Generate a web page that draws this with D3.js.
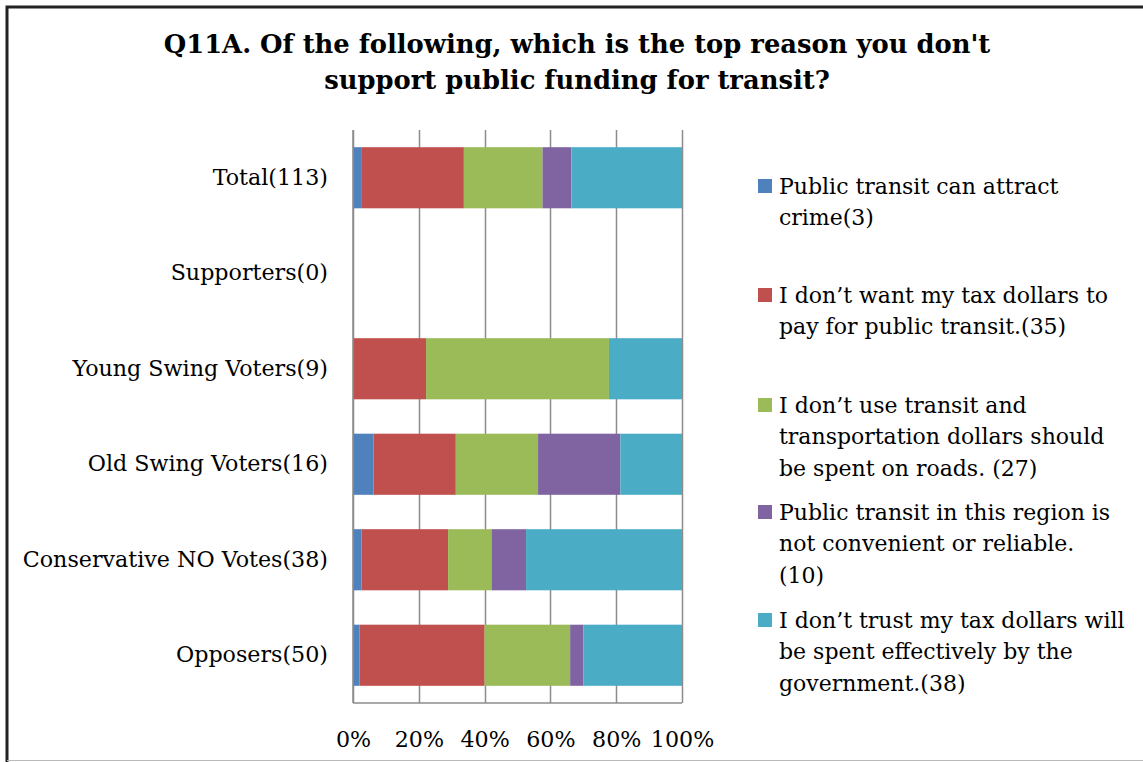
<!DOCTYPE html>
<html>
<head>
<meta charset="utf-8">
<script src="https://cdn.jsdelivr.net/npm/d3@7"></script>
<style>
  html, body { margin: 0; padding: 0; background: #fff; }
  svg { display: block; }
  text { font-family: "DejaVu Serif", serif; fill: #000; }
</style>
</head>
<body>
<svg id="chart" width="1143" height="762"></svg>
<script>
// Survey groups (top to bottom) and share of each group's top reason, in percent
const categories = [
  "Total(113)",
  "Supporters(0)",
  "Young Swing Voters(9)",
  "Old Swing Voters(16)",
  "Conservative NO Votes(38)",
  "Opposers(50)"
];
const attractCrime     = [2.7, 0, 0, 6.25, 2.6, 2.0];
const taxNotForTransit = [31.0, 0, 22.2, 25.0, 26.3, 38.0];
const spendOnRoads     = [23.9, 0, 55.6, 25.0, 13.2, 26.0];
const notConvenient    = [8.8, 0, 0, 25.0, 10.5, 4.0];
const distrustSpend    = [33.6, 0, 22.2, 18.75, 47.4, 30.0];

const seriesLabels = [
  ["Public transit can attract", "crime(3)"],
  ["I don\u2019t want my tax dollars to", "pay for public transit.(35)"],
  ["I don\u2019t use transit and", "transportation dollars should", "be spent on roads. (27)"],
  ["Public transit in this region is", "not convenient or reliable.", "(10)"],
  ["I don\u2019t trust my tax dollars will", "be spent effectively by the", "government.(38)"]
];
const seriesColors = ["#4F81BD", "#C0504D", "#9BBB59", "#8064A2", "#4BACC6"];
const tickValues = [0, 20, 40, 60, 80, 100];
const tickLabels = ["0%", "20%", "40%", "60%", "80%", "100%"];
const titleLines = [
  "Q11A. Of the following, which is the top reason you don't",
  "support public funding for transit?"
];

const seriesValues = [attractCrime, taxNotForTransit, spendOnRoads, notConvenient, distrustSpend];
const rows = categories.map((c, i) => {
  const r = { category: c };
  seriesValues.forEach((arr, k) => { r["s" + k] = arr[i]; });
  return r;
});
const keys = seriesValues.map((_, k) => "s" + k);
const stacked = d3.stack().keys(keys)(rows);

const svg = d3.select("#chart");
const FONT = 22.2;

// Outer frame
svg.append("path")
  .attr("d", "M7,762 V7 H1143")
  .attr("fill", "none").attr("stroke", "#222").attr("stroke-width", 3);
svg.append("line")
  .attr("x1", 7).attr("x2", 1143).attr("y1", 760.5).attr("y2", 760.5)
  .attr("stroke", "#bbb").attr("stroke-width", 1);

// Title
svg.append("text")
  .attr("x", 577).attr("y", 53)
  .attr("text-anchor", "middle")
  .style("font-size", "25.8px").style("font-weight", "bold")
  .selectAll("tspan").data(titleLines).join("tspan")
  .attr("x", 577).attr("dy", (d, i) => i === 0 ? 0 : 36)
  .text(d => d);

// Scales
const x = d3.scaleLinear().domain([0, 100]).range([353, 682]);
const y = d3.scaleBand().domain(categories).range([130, 703])
  .paddingInner(0.36).paddingOuter(0.18);

// Vertical gridlines
svg.append("g").selectAll("line").data(tickValues).join("line")
  .attr("x1", d => Math.round(x(d)) + 0.5).attr("x2", d => Math.round(x(d)) + 0.5)
  .attr("y1", 130).attr("y2", 703)
  .attr("stroke", "#8c8c8c").attr("stroke-width", 1.5);

// Stacked bars
svg.append("g").selectAll("g").data(stacked).join("g")
  .attr("fill", (d, i) => seriesColors[i])
  .selectAll("rect").data(d => d).join("rect")
  .attr("x", d => x(d[0]))
  .attr("width", d => Math.max(0, x(d[1]) - x(d[0])))
  .attr("y", d => y(d.data.category))
  .attr("height", y.bandwidth());

// Axis lines
svg.append("line")
  .attr("x1", 353).attr("x2", 682).attr("y1", 703).attr("y2", 703)
  .attr("stroke", "#8c8c8c").attr("stroke-width", 1.5);
svg.append("line")
  .attr("x1", 353).attr("x2", 353).attr("y1", 130).attr("y2", 703)
  .attr("stroke", "#8c8c8c").attr("stroke-width", 1.5);

// X tick labels
const xAxis = d3.axisBottom(x).tickValues(tickValues)
  .tickFormat((d, i) => tickLabels[i]).tickSize(0).tickPadding(0);
const gx = svg.append("g").attr("transform", "translate(0,731)").call(xAxis);
gx.select(".domain").remove();
gx.selectAll("text").style("font-size", FONT + "px")
  .style("font-family", "'DejaVu Serif', serif").attr("fill", "#000");

// Category labels
const yAxis = d3.axisLeft(y).tickSize(0).tickPadding(0);
const gy = svg.append("g").attr("transform", "translate(328,0)").call(yAxis);
gy.select(".domain").remove();
gy.selectAll("text").style("font-size", FONT + "px")
  .style("font-family", "'DejaVu Serif', serif").attr("fill", "#000");

// Legend
const legendTop = [186, 295, 405, 512, 620];
const lineH = 31.5;
const lg = svg.append("g");
seriesLabels.forEach((lines, i) => {
  const g = lg.append("g").attr("transform", `translate(758,${legendTop[i]})`);
  g.append("rect").attr("x", 0).attr("y", -7).attr("width", 14).attr("height", 14)
    .attr("fill", seriesColors[i]);
  g.append("text").attr("x", 21).attr("y", 0)
    .style("font-size", "22px")
    .selectAll("tspan").data(lines).join("tspan")
    .attr("x", 21).attr("y", (d, j) => j * lineH).attr("dy", "0.35em")
    .text(d => d);
});
</script>
</body>
</html>
